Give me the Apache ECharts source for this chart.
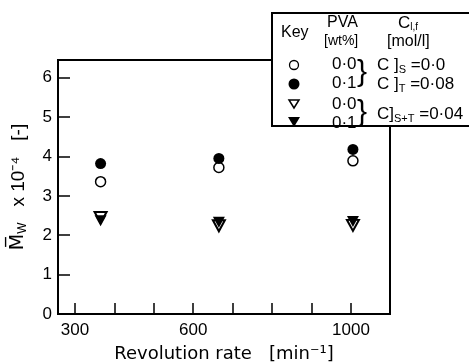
<!DOCTYPE html>
<html><head><meta charset="utf-8">
<script src="https://cdn.jsdelivr.net/npm/echarts@6/dist/echarts.min.js"></script>
<style>html,body{margin:0;padding:0;background:#fff}#c{width:469px;height:362px}</style>
</head><body><div id="c"></div>
<script>
const revolutionRate = [365, 665, 1005];
const pva00_CS = [3.36, 3.72, 3.89];
const pva01_CT = [3.82, 3.95, 4.18];
const pva00_CST = [2.45, 2.24, 2.25];
const pva01_CST = [2.37, 2.33, 2.35];
const xTickValues = [300, 400, 500, 600, 700, 800, 900, 1000];
const xLabelValues = [300, 600, 1000];
const yTickValues = [1, 2, 3, 4, 5, 6];
const yLabelValues = [0, 1, 2, 3, 4, 5, 6];

const FONT = 'Liberation Sans';
const pair = (arr) => revolutionRate.map((x, i) => [x, arr[i]]);

const chart = echarts.init(document.getElementById('c'), null, {renderer: 'canvas'});
const base = {type: 'scatter', silent: true, animation: false};
const sub = (size, pad) => ({fontFamily: FONT, fontSize: size, fill: '#000', padding: [pad, 0, 0, 0]});
const main = (size) => ({fontFamily: FONT, fontSize: size, fill: '#000'});
chart.setOption({
  animation: false,
  backgroundColor: '#fff',
  grid: {left: 58, right: 79, top: 60, bottom: 48, containLabel: false, outerBoundsMode: 'none',
    show: true, borderColor: '#000', borderWidth: 2, backgroundColor: 'transparent'},
  xAxis: {
    type: 'value', min: 257, max: 1099,
    axisLine: {lineStyle: {color: '#000', width: 2}},
    axisTick: {inside: true, length: 11, lineStyle: {color: '#000', width: 1.5}, customValues: xTickValues},
    axisLabel: {customValues: xLabelValues, color: '#000', fontFamily: FONT, fontSize: 17, margin: 8, formatter: (v) => String(v)},
    splitLine: {show: false},
    name: 'Revolution rate   [min⁻¹]', nameLocation: 'middle', nameGap: 31,
    nameTextStyle: {color: '#000', fontFamily: 'DejaVu Sans', fontSize: 18}
  },
  yAxis: {
    type: 'value', min: 0, max: 6.45,
    axisLine: {lineStyle: {color: '#000', width: 2}},
    axisTick: {inside: true, length: 12, lineStyle: {color: '#000', width: 1.5}, customValues: yTickValues},
    axisLabel: {customValues: yLabelValues, color: '#000', fontFamily: FONT, fontSize: 17, margin: 6, formatter: (v) => String(v)},
    splitLine: {show: false},
    name: '{m|M̅}{s|W}{t|   x 10⁻⁴   [-]}', nameLocation: 'middle', nameGap: 29, nameRotate: 90,
    nameTextStyle: {color: '#000', fontFamily: FONT, fontSize: 19,
      rich: {m: {fontFamily: 'DejaVu Sans', fontSize: 19, color: '#000'},
             s: {fontFamily: FONT, fontSize: 12, color: '#000', padding: [9, 0, 0, 0]},
             t: {fontFamily: FONT, fontSize: 19, color: '#000'}}}
  },
  series: [
    Object.assign({}, base, {name: 'PVA 0.0 C S', data: pair(pva00_CS), symbol: 'circle', symbolSize: 10,
      itemStyle: {color: '#fff', borderColor: '#000', borderWidth: 1.5, opacity: 1}, z: 2}),
    Object.assign({}, base, {name: 'PVA 0.1 C T', data: pair(pva01_CT), symbol: 'circle', symbolSize: 11,
      itemStyle: {color: '#000', opacity: 1}, z: 3}),
    Object.assign({}, base, {name: 'PVA 0.0 C S+T', data: pair(pva00_CST), symbol: 'triangle', symbolRotate: 180, symbolSize: [12, 11],
      itemStyle: {color: '#fff', borderColor: '#000', borderWidth: 2, opacity: 1}, z: 2}),
    Object.assign({}, base, {name: 'PVA 0.1 C S+T', data: pair(pva01_CST), symbol: 'triangle', symbolRotate: 180, symbolSize: [12, 11],
      itemStyle: {color: '#000', opacity: 1}, z: 3})
  ],
  graphic: [
    {type: 'rect', shape: {x: 272, y: 13, width: 210, height: 113}, style: {fill: '#fff', stroke: '#000', lineWidth: 2}, z: 100},
    {type: 'text', x: 281, y: 25, style: {text: 'Key', font: '16px "Liberation Sans"', fill: '#000'}, z: 101},
    {type: 'text', x: 327, y: 15, style: {text: 'PVA', font: '16px "Liberation Sans"', fill: '#000'}, z: 101},
    {type: 'text', x: 324, y: 34, style: {text: '[wt%]', font: '14px "Liberation Sans"', fill: '#000'}, z: 101},
    {type: 'text', x: 398, y: 15, style: {text: '{a|C}{b|l,f}', rich: {a: main(17), b: sub(10, 7)}}, z: 101},
    {type: 'text', x: 387, y: 34, style: {text: '[mol/l]', font: '16px "Liberation Sans"', fill: '#000'}, z: 101},
    {type: 'circle', shape: {cx: 294, cy: 65, r: 4.5}, style: {fill: '#fff', stroke: '#000', lineWidth: 1.3}, z: 101},
    {type: 'circle', shape: {cx: 294, cy: 84, r: 5.5}, style: {fill: '#000'}, z: 101},
    {type: 'polygon', shape: {points: [[289, 100], [299, 100], [294, 108]]}, style: {fill: '#fff', stroke: '#000', lineWidth: 1.5}, z: 101},
    {type: 'polygon', shape: {points: [[288, 117], [300, 117], [294, 127]]}, style: {fill: '#000'}, z: 101},
    {type: 'text', x: 332, y: 56, style: {text: '0·0', font: '17px "Liberation Sans"', fill: '#000'}, z: 101},
    {type: 'text', x: 332, y: 75, style: {text: '0·1', font: '17px "Liberation Sans"', fill: '#000'}, z: 101},
    {type: 'text', x: 332, y: 96, style: {text: '0·0', font: '17px "Liberation Sans"', fill: '#000'}, z: 101},
    {type: 'text', x: 332, y: 115, style: {text: '0·1', font: '17px "Liberation Sans"', fill: '#000'}, z: 101},
    {type: 'text', x: 357, y: 58, style: {text: '}', font: '30px "Liberation Sans"', fill: '#000'}, z: 101},
    {type: 'text', x: 357, y: 98, style: {text: '}', font: '30px "Liberation Sans"', fill: '#000'}, z: 101},
    {type: 'text', x: 377, y: 56, style: {text: '{a|C ]}{b|S}{a| =0·0}', rich: {a: main(17), b: sub(11, 8)}}, z: 101},
    {type: 'text', x: 377, y: 75, style: {text: '{a|C ]}{b|T}{a| =0·08}', rich: {a: main(17), b: sub(11, 8)}}, z: 101},
    {type: 'text', x: 377, y: 105, style: {text: '{a|C]}{b|S+T}{a| =0·04}', rich: {a: main(17), b: sub(11, 8)}}, z: 101}
  ]
});
</script></body></html>
